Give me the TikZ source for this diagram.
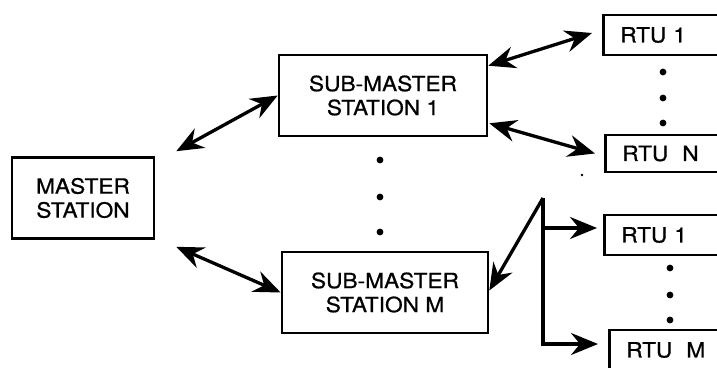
\documentclass[tikz,border=0pt]{standalone}
\usepackage{fontspec}
\setmainfont{TeX Gyre Heros}[FakeStretch=1.08, FakeBold=0.8]
\usepackage{tikz}
\usetikzlibrary{arrows.meta, positioning, calc}

\begin{document}
\begin{tikzpicture}[x=1pt, y=-1pt,
    station/.style={draw, line width=2.6pt, align=center, inner sep=0pt,
      minimum height=81pt, font=\fontsize{21}{24}\selectfont},
    rtubox/.style={draw, line width=2.6pt, anchor=west, align=left, inner xsep=17pt,
      text width=130pt, minimum height=40pt, font=\fontsize{21}{24}\selectfont},
    link/.style={line width=3.3pt, {Stealth[length=27pt,width=22pt,inset=9pt]}-{Stealth[length=27pt,width=22pt,inset=9pt]}},
    feed/.style={line width=3.3pt, -{Stealth[length=27pt,width=22pt,inset=9pt]}},
    dot/.style={fill=black}]
  \useasboundingbox (0,0) rectangle (717,367);
  \clip (0,0) rectangle (717,367);
  % Stations
  \node[station, minimum width=142pt] (master) at (83,198) {MASTER\\STATION};
  \node[station, minimum width=208pt] (sm1) at (383,95.5) {SUB-MASTER\\STATION 1};
  \node[station, minimum width=206pt] (smm) at (385,292.5) {SUB-MASTER\\STATION M};
  % RTUs
  \node[rtubox] (rtu1a) at (602,35) {RTU 1};
  \node[rtubox, minimum height=37pt] (rtun) at (604,153.5) {RTU\ \ N};
  \node[rtubox] (rtu1b) at (603,235) {RTU 1};
  \node[rtubox] (rtum) at (608,350) {RTU\ \ M};
  % Dots
  \foreach \y in {160,197,232} \fill[dot] (380,\y) circle (3.4pt);
  \foreach \y in {72,98,123} \fill[dot] (663,\y) circle (3.4pt);
  \foreach \y in {268,295,320} \fill[dot] (670,\y) circle (3.4pt);
  \fill[dot] (582,175) circle (1.3pt);
  % Links
  \draw[link] ($(master.north east)+(21,-5)$) -- (sm1.west);
  \draw[link] ($(master.south east)+(21,7)$) -- (smm.west);
  \draw[link] ($(sm1.north east)+(0,12)$) -- ($(rtu1a.west)+(-10,-2)$);
  \draw[link] ($(sm1.south east)+(1,-14)$) -- ($(rtun.west)+(-9,0)$);
  % Fork to lower RTUs
  \coordinate (fork) at (543,198);
  \draw[feed] (fork) -- ($(smm.east)+(0,-2)$);
  \draw[feed] (fork) |- ($(rtu1b.west)+(-6,-7)$);
  \draw[feed] (fork) |- ($(rtum.west)+(-10,-6)$);
\end{tikzpicture}
\end{document}
